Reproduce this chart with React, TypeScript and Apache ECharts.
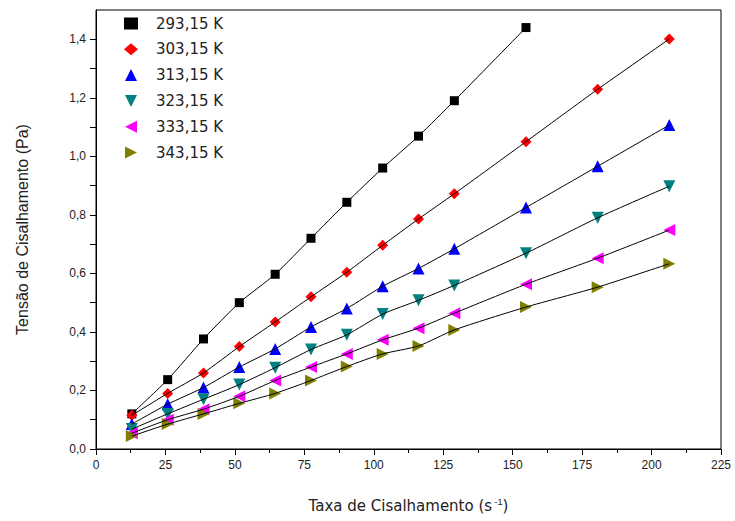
import React, { useEffect, useRef } from "react";
import * as echarts from "echarts";

const shearRate = [12.9, 25.8, 38.7, 51.6, 64.5, 77.4, 90.3, 103.2, 116.1, 129, 154.8, 180.6, 206.4];
const seriesNames = ["293,15 K", "303,15 K", "313,15 K", "323,15 K", "333,15 K", "343,15 K"];
const t293 = [0.12, 0.237, 0.376, 0.5, 0.597, 0.72, 0.843, 0.96, 1.069, 1.19, 1.44];
const t303 = [0.115, 0.19, 0.26, 0.35, 0.434, 0.52, 0.604, 0.696, 0.786, 0.872, 1.05, 1.229, 1.401];
const t313 = [0.085, 0.153, 0.21, 0.28, 0.342, 0.417, 0.48, 0.556, 0.617, 0.684, 0.825, 0.966, 1.107];
const t323 = [0.068, 0.12, 0.17, 0.22, 0.278, 0.34, 0.39, 0.461, 0.508, 0.559, 0.669, 0.79, 0.898];
const t333 = [0.054, 0.1, 0.136, 0.18, 0.234, 0.28, 0.325, 0.373, 0.413, 0.464, 0.563, 0.652, 0.748];
const t343 = [0.044, 0.085, 0.12, 0.156, 0.19, 0.234, 0.282, 0.325, 0.352, 0.407, 0.485, 0.553, 0.633];
const xTicks = [0, 25, 50, 75, 100, 125, 150, 175, 200, 225];
const yTicks = [0, 0.2, 0.4, 0.6, 0.8, 1.0, 1.2, 1.4];

const values = [t293, t303, t313, t323, t333, t343];
const colors = ["#000000", "#ff0000", "#0000ff", "#008080", "#ff00ff", "#808000"];
const symbols = [
  "rect",
  "diamond",
  "path://M5,0 L10,10 L0,10 Z",
  "path://M0,0 L10,0 L5,10 Z",
  "path://M10,0 L10,10 L0,5 Z",
  "path://M0,0 L0,10 L10,5 Z",
];
const sizes = [9, 11, 12, 12, 12, 12];

export default function App() {
  const ref = useRef<HTMLDivElement>(null);
  useEffect(() => {
    if (!ref.current) return;
    const chart = echarts.init(ref.current, null, { renderer: "svg" });
    const font = "'Liberation Sans', Arial, sans-serif";
    const lineSeries = values.map((v) => ({
      type: "line",
      data: v.map((y, i) => [shearRate[i], y]),
      showSymbol: false,
      symbol: "none",
      smooth: 0.2,
      silent: true,
      lineStyle: { color: "#000", width: 1 },
      z: 3,
    }));
    const scatterSeries = values.map((v, k) => ({
      type: "scatter",
      name: seriesNames[k],
      data: v.map((y, i) => [shearRate[i], y]),
      symbol: symbols[k],
      symbolSize: sizes[k],
      itemStyle: { color: colors[k], opacity: 1 },
      z: 2,
    }));
    chart.setOption({
      animation: false,
      backgroundColor: "#fff",
      grid: {
        left: 96,
        right: 14,
        top: 10,
        bottom: 72,
        show: true,
        borderColor: "#000",
        borderWidth: 1,
      },
      legend: {
        show: true,
        orient: "vertical",
        left: 119,
        top: 11,
        itemWidth: 14,
        itemHeight: 12,
        itemGap: 10.8,
        data: seriesNames,
        textStyle: {
          fontFamily: "'DejaVu Sans', sans-serif",
          fontSize: 15,
          color: "#222",
          padding: [0, 0, 0, 13],
        },
      },
      xAxis: {
        type: "value",
        min: 0,
        max: 225,
        interval: 25,
        name: "{a|Taxa de Cisalhamento (s}{s| -1}{a|)}",
        nameLocation: "middle",
        nameGap: 48,
        nameTextStyle: {
          rich: {
            a: { fontFamily: "'DejaVu Sans', sans-serif", fontSize: 15, color: "#222" },
            s: { fontFamily: font, fontSize: 9, color: "#222", verticalAlign: "top", padding: [0, 0, 8, 0] },
          },
        },
        axisLine: { show: true, lineStyle: { color: "#000", width: 1 } },
        axisTick: { show: true, inside: false, length: 6, lineStyle: { color: "#000" } },
        minorTick: { show: true, splitNumber: 2, length: 4, lineStyle: { color: "#000" } },
        splitLine: { show: false },
        axisLabel: {
          fontFamily: font,
          fontSize: 12,
          color: "#222",
          margin: 10,
          formatter: (v: number) => (xTicks.includes(v) ? String(v) : ""),
        },
      },
      yAxis: {
        type: "value",
        min: 0,
        max: 1.5,
        interval: 0.1,
        name: "Tensão de Cisalhamento (Pa)",
        nameLocation: "middle",
        nameGap: 66,
        nameTextStyle: { fontFamily: font, fontSize: 16, color: "#222" },
        axisLine: { show: true, lineStyle: { color: "#000", width: 1 } },
        axisTick: { show: true, inside: false, length: 6, lineStyle: { color: "#000" } },
        splitLine: { show: false },
        axisLabel: {
          fontFamily: font,
          fontSize: 12,
          color: "#222",
          margin: 10,
          showMaxLabel: false,
          formatter: (v: number) => {
            const r = Math.round(v * 10) / 10;
            const ok = yTicks.some((t) => Math.abs(t - r) < 1e-6);
            return ok ? r.toFixed(1).replace(".", ",") : "";
          },
        },
      },
      series: [...lineSeries, ...scatterSeries],
    });
    return () => chart.dispose();
  }, []);
  return (
    <div
      ref={ref}
      style={{ position: "absolute", left: 0, top: 0, width: 735, height: 521 }}
    />
  );
}
